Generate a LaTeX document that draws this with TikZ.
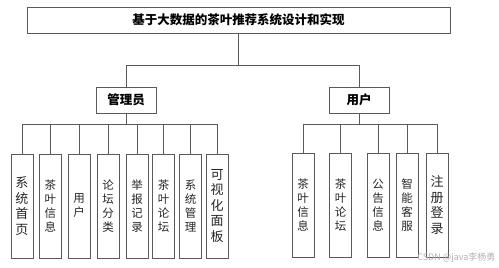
\documentclass[tikz,border=0pt]{standalone}
\usepackage{fontspec}
\newfontfamily\cjk{Noto Sans CJK SC}
\begin{document}
\begin{tikzpicture}[x=1pt,y=-1pt,
  box/.style={draw=black!65,line width=0.8pt,inner sep=0pt},
  topbox/.style={box,minimum height=26pt,font=\cjk\bfseries\fontsize{12.5}{14}\selectfont},
  leaf/.style={box,minimum width=22pt,minimum height=104pt,align=center,text=black!85},
  big/.style={font=\cjk\fontsize{13}{15.5}\selectfont},
  small/.style={font=\cjk\fontsize{11.5}{14}\selectfont},
  conn/.style={draw=black!65,line width=0.8pt}]
\useasboundingbox (0,0) rectangle (499,268);
\fill[white] (0,0) rectangle (499,268);
\node[topbox,minimum width=423pt] (title) at (238.5,20) {基于大数据的茶叶推荐系统设计和实现};
\node[topbox,minimum width=60pt] (admin) at (126,100) {管理员};
\node[topbox,minimum width=60pt] (user) at (359,100) {用户};
% admin leaves
\node[leaf,big] (a1) at (22,206) {系\\统\\首\\页};
\node[leaf,small] (a2) at (50.5,206) {茶\\叶\\信\\息};
\node[leaf,small] (a3) at (79,206) {用\\户};
\node[leaf,small] (a4) at (108,206) {论\\坛\\分\\类};
\node[leaf,small] (a5) at (137,206) {举\\报\\记\\录};
\node[leaf,small] (a6) at (163.5,206) {茶\\叶\\论\\坛};
\node[leaf,small] (a7) at (190.5,206) {系\\统\\管\\理};
\node[leaf,big] (a8) at (217,206) {可\\视\\化\\面\\板};
% user leaves
\node[leaf,small] (u1) at (303,205) {茶\\叶\\信\\息};
\node[leaf,small] (u2) at (340.5,205) {茶\\叶\\论\\坛};
\node[leaf,small] (u3) at (378,205) {公\\告\\信\\息};
\node[leaf,small] (u4) at (407,205) {智\\能\\客\\服};
\node[leaf,big] (u5) at (437,205) {注\\册\\登\\录};
% connectors
\coordinate (j0) at (238.5,66);
\draw[conn] (title.south) -- (j0);
\draw[conn] (admin.north) -- ++(0,-21) -| (user.north);
\draw[conn] (admin.south) -- ++(0,11) coordinate (ja);
\foreach \n in {a1,a2,a3,a4,a5,a6,a7,a8}{\draw[conn] (\n.north) |- (ja);}
\draw[conn] (user.south) -- ++(0,11) coordinate (ju);
\foreach \n in {u1,u2,u3,u4,u5}{\draw[conn] (\n.north) |- (ju);}
\node[text=black!30,font=\fontsize{9}{10}\selectfont\cjk,anchor=east] (wm) at (499,258) {CSDN @java李杨勇};
\end{tikzpicture}
\end{document}
